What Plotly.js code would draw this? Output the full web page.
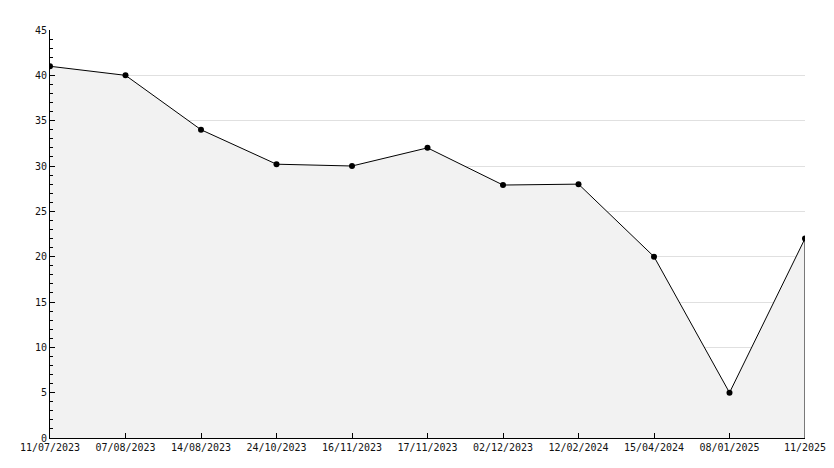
<!DOCTYPE html>
<html>
<head>
<meta charset="utf-8">
<script src="https://cdn.plot.ly/plotly-3.0.1.min.js"></script>
<style>html,body{margin:0;padding:0;background:#fff;}#chart{width:834px;height:468px;}</style>
</head>
<body>
<div id="chart"></div>
<script>
var dates = ["11/07/2023","07/08/2023","14/08/2023","24/10/2023","16/11/2023","17/11/2023","02/12/2023","12/02/2024","15/04/2024","08/01/2025","11/2025"];
var values = [41, 40, 34, 30.2, 30, 32, 27.9, 28, 20, 5, 22];
var yTicks = [0, 5, 10, 15, 20, 25, 30, 35, 40, 45];

var font = {family: "DejaVu Sans Mono, monospace", size: 10, color: "#111"};

var trace = {
  x: dates, y: values, type: "scatter", mode: "lines+markers",
  fill: "tozeroy", fillcolor: "#f2f2f2",
  line: {color: "#000", width: 1},
  marker: {color: "#000", size: 6, symbol: "circle"},
  hoverinfo: "x+y"
};

var last = dates.length - 1;
var layout = {
  width: 834, height: 468,
  margin: {l: 50, r: 29, t: 30, b: 30},
  paper_bgcolor: "#fff", plot_bgcolor: "#fff",
  showlegend: false,
  font: font,
  xaxis: {
    type: "category", range: [0, last],
    showgrid: false, zeroline: false,
    showline: true, linecolor: "#000", linewidth: 1,
    ticks: "inside", ticklen: 5, tickcolor: "#000",
    tickfont: font, fixedrange: true
  },
  yaxis: {
    range: [0, 45], tickvals: yTicks,
    showgrid: true, gridcolor: "#e0e0e0", gridwidth: 1,
    zeroline: false,
    showline: true, linecolor: "#000", linewidth: 1,
    ticks: "inside", ticklen: 5, tickcolor: "#000",
    minor: {dtick: 1, tick0: 0, ticks: "inside", ticklen: 3, tickcolor: "#000", showgrid: false},
    tickfont: font, fixedrange: true
  },
  shapes: [{
    type: "line", xref: "x", yref: "y",
    x0: dates[last], x1: dates[last], y0: 0, y1: values[last],
    line: {color: "#000", width: 1}
  }]
};

Plotly.newPlot("chart", [trace], layout, {displayModeBar: false, staticPlot: true});
</script>
</body>
</html>
